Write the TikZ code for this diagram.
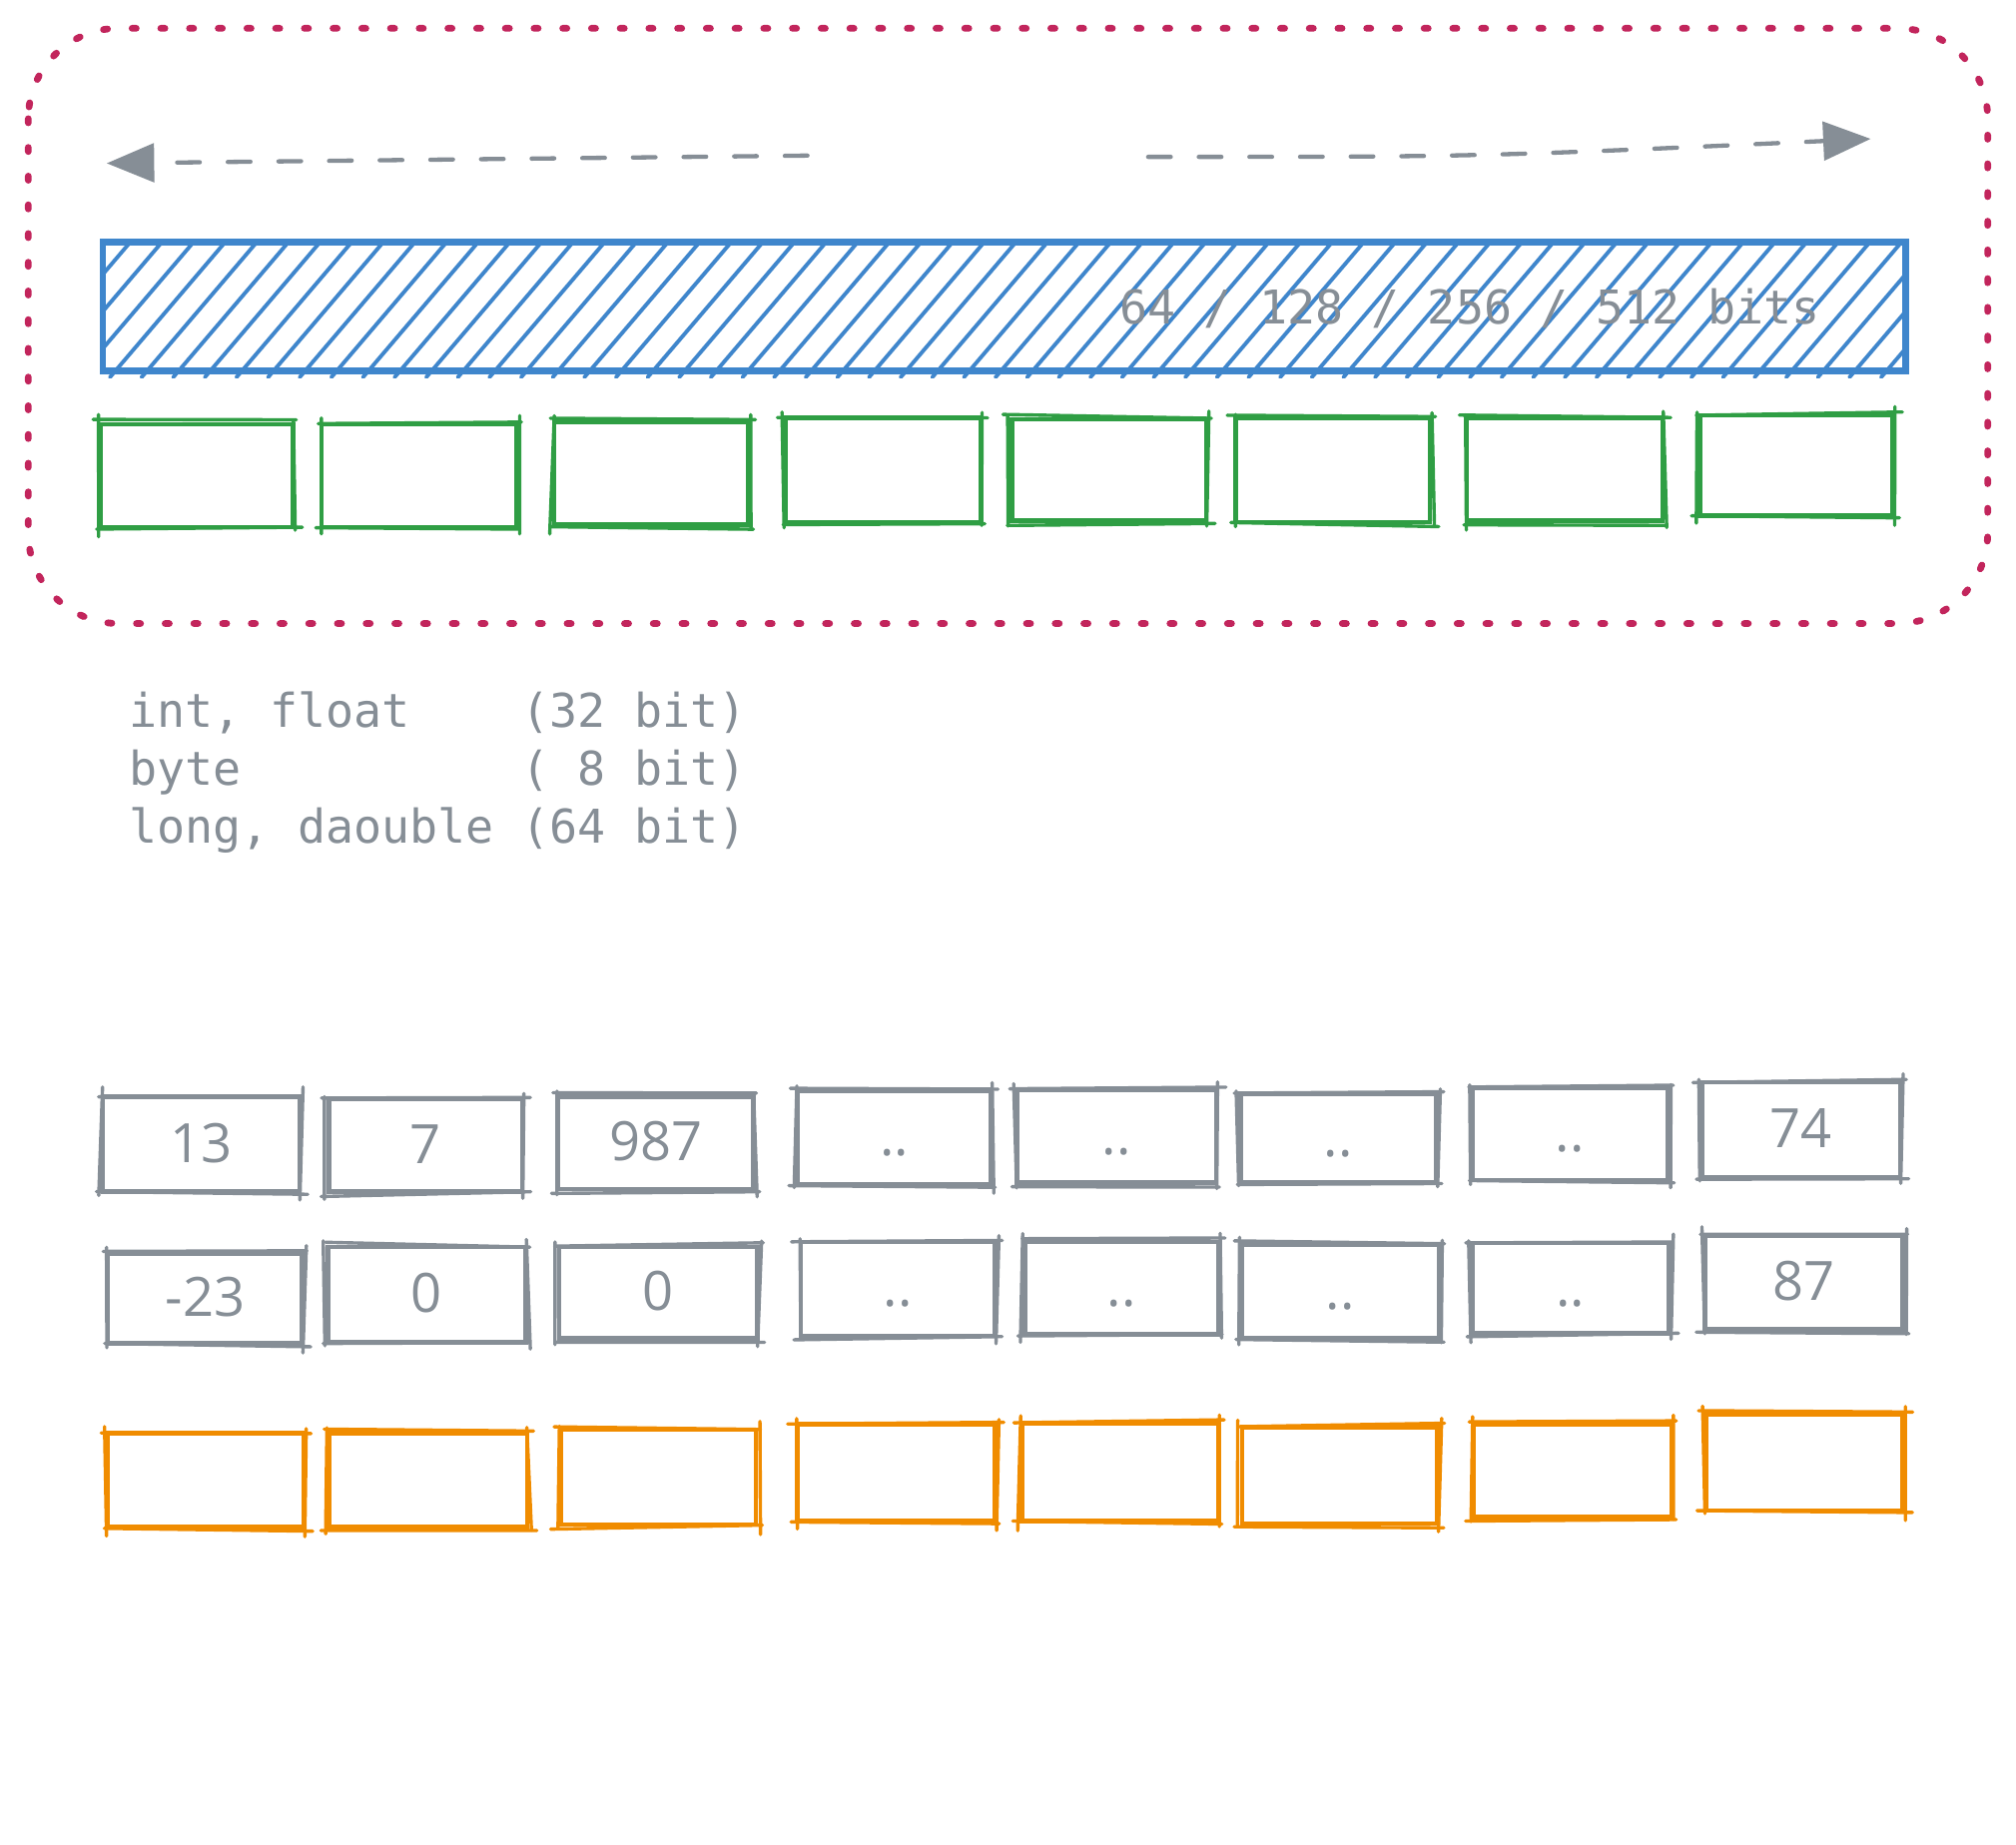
\documentclass[tikz,border=0pt]{standalone}
\usepackage{fontspec}
\usetikzlibrary{arrows.meta,fit,calc}
\newfontfamily\monof{DejaVu Sans Mono}
\newfontfamily\handf{Open Sans}
\definecolor{framecol}{HTML}{C2255C}
\definecolor{greycol}{HTML}{868E96}
\definecolor{bluecol}{HTML}{3F86CC}
\definecolor{hatchcol}{HTML}{3F86CC}
\definecolor{greencol}{HTML}{2F9E44}
\definecolor{orangecol}{HTML}{F08C00}
\tikzset{
  framestyle/.style={draw=framecol, line width=1.5pt, line cap=round, dash pattern=on 0.9pt off 5.45pt, rounded corners=20pt},
  dasharrow/.style={draw=greycol, line width=0.95pt, line cap=round, dash pattern=on 5pt off 6.2pt, -{Triangle[length=10.5pt,width=8.5pt]}},
  hatchline/.style={draw=hatchcol, line width=0.85pt, line cap=round},
  barstyle/.style={draw=bluecol, line width=1.5pt},
  monotext/.style={text=greycol, font=\monof\fontsize{10.3}{12.8}\selectfont, inner sep=0pt},
  handtext/.style={text=greycol, font=\handf\fontsize{12}{14}\selectfont, inner sep=0pt, anchor=base},
  boxmain/.style={inner sep=0pt, line width=1pt},
  boxsketch/.style={line width=0.75pt, line cap=round}
}
\newcommand\skbox[6]{%
  \node[fit={(#2,#3) (#4,#5)}, boxmain, draw=#6] (#1) {};
  \draw[boxsketch, #6] ($(#1.north west)+({-3+3*rand},{2*rand})$) -- ($(#1.north east)+({3+3*rand},{2*rand})$);
  \draw[boxsketch, #6] ($(#1.north east)+({2*rand},{-3+3*rand})$) -- ($(#1.south east)+({2*rand},{3+3*rand})$);
  \draw[boxsketch, #6] ($(#1.south east)+({3+3*rand},{2*rand})$) -- ($(#1.south west)+({-3+3*rand},{2*rand})$);
  \draw[boxsketch, #6] ($(#1.south west)+({2*rand},{3+3*rand})$) -- ($(#1.north west)+({2*rand},{-3+3*rand})$);
}
\newcommand\boxlabel[2]{\node[handtext] (#1l) at ($(#1.center)+(0,14)$) {#2};}
\begin{document}
\begin{tikzpicture}[x=0.01cm, y=-0.01cm]
\pgfmathsetseed{17}
\useasboundingbox (0,0) rectangle (1568,1435);
% frame
\draw[framestyle] (22,22) rectangle (1546,485);
% arrows
\coordinate (la) at (628,121);
\coordinate (lb) at (83,127);
\coordinate (ra) at (893,122);
\coordinate (rb) at (1455,108);
\draw[dasharrow] (la) -- (lb);
\draw[dasharrow] (ra) .. controls (1150,122) .. (rb);
% hatched bar
\begin{scope}
  \clip (79,188) rectangle (1482,294);
  \foreach \i in {-4,...,57} {
    \draw[hatchline] ({85.4+\i*24.6},293.6) -- ++(90,-105.6);
  }
\end{scope}
\node[fit={(80,188.5) (1482,288.5)}, inner sep=0pt, barstyle] (bar) {};
\node[monotext, anchor=base west] (bits) at (870,252) {64 / 128 / 256 / 512 bits};
% green boxes
\skbox{g1}{78}{330}{228}{410}{greencol}
\skbox{g2}{250}{330}{402}{410}{greencol}
\skbox{g3}{431}{328}{582}{408}{greencol}
\skbox{g4}{611}{325}{763}{406}{greencol}
\skbox{g5}{787}{326}{938}{405}{greencol}
\skbox{g6}{961}{325}{1112}{406}{greencol}
\skbox{g7}{1141}{325}{1293}{405}{greencol}
\skbox{g8}{1322}{323}{1472}{401}{greencol}
% text block
\node[monotext, anchor=base west] (t1) at (100,566) {int,~float~~~~(32~bit)};
\node[monotext, anchor=base west] (t2) at (100,611) {byte~~~~~~~~~~(~8~bit)};
\node[monotext, anchor=base west] (t3) at (100,656) {long,~daouble~(64~bit)};
% grey row 1
\skbox{a1}{80}{853}{233}{927}{greycol}\boxlabel{a1}{13}
\skbox{a2}{256}{855}{406}{927}{greycol}\boxlabel{a2}{7}
\skbox{a3}{434}{853}{586}{925}{greycol}\boxlabel{a3}{987}
\skbox{a4}{620}{849}{771}{921}{greycol}\boxlabel{a4}{..}
\skbox{a5}{791}{848}{946}{920}{greycol}\boxlabel{a5}{..}
\skbox{a6}{965}{851}{1117}{920}{greycol}\boxlabel{a6}{..}
\skbox{a7}{1145}{846}{1297}{918}{greycol}\boxlabel{a7}{..}
\skbox{a8}{1324}{842}{1478}{916}{greycol}\boxlabel{a8}{74}
% grey row 2
\skbox{b1}{84}{975}{235}{1045}{greycol}\boxlabel{b1}{-23}
\skbox{b2}{255}{970}{409}{1044}{greycol}\boxlabel{b2}{0}
\skbox{b3}{435}{970}{589}{1041}{greycol}\boxlabel{b3}{0}
\skbox{b4}{623}{966}{774}{1039}{greycol}\boxlabel{b4}{..}
\skbox{b5}{797}{966}{948}{1038}{greycol}\boxlabel{b5}{..}
\skbox{b6}{966}{968}{1119}{1041}{greycol}\boxlabel{b6}{..}
\skbox{b7}{1145}{967}{1298}{1037}{greycol}\boxlabel{b7}{..}
\skbox{b8}{1326}{961}{1480}{1034}{greycol}\boxlabel{b8}{87}
% orange row
\skbox{c1}{84}{1115}{236}{1188}{orangecol}
\skbox{c2}{256}{1115}{410}{1188}{orangecol}
\skbox{c3}{436}{1112}{588}{1186}{orangecol}
\skbox{c4}{620}{1108}{774}{1183}{orangecol}
\skbox{c5}{795}{1107}{948}{1183}{orangecol}
\skbox{c6}{966}{1110}{1118}{1185}{orangecol}
\skbox{c7}{1146}{1108}{1300}{1180}{orangecol}
\skbox{c8}{1327}{1100}{1480}{1175}{orangecol}
\end{tikzpicture}
\end{document}
